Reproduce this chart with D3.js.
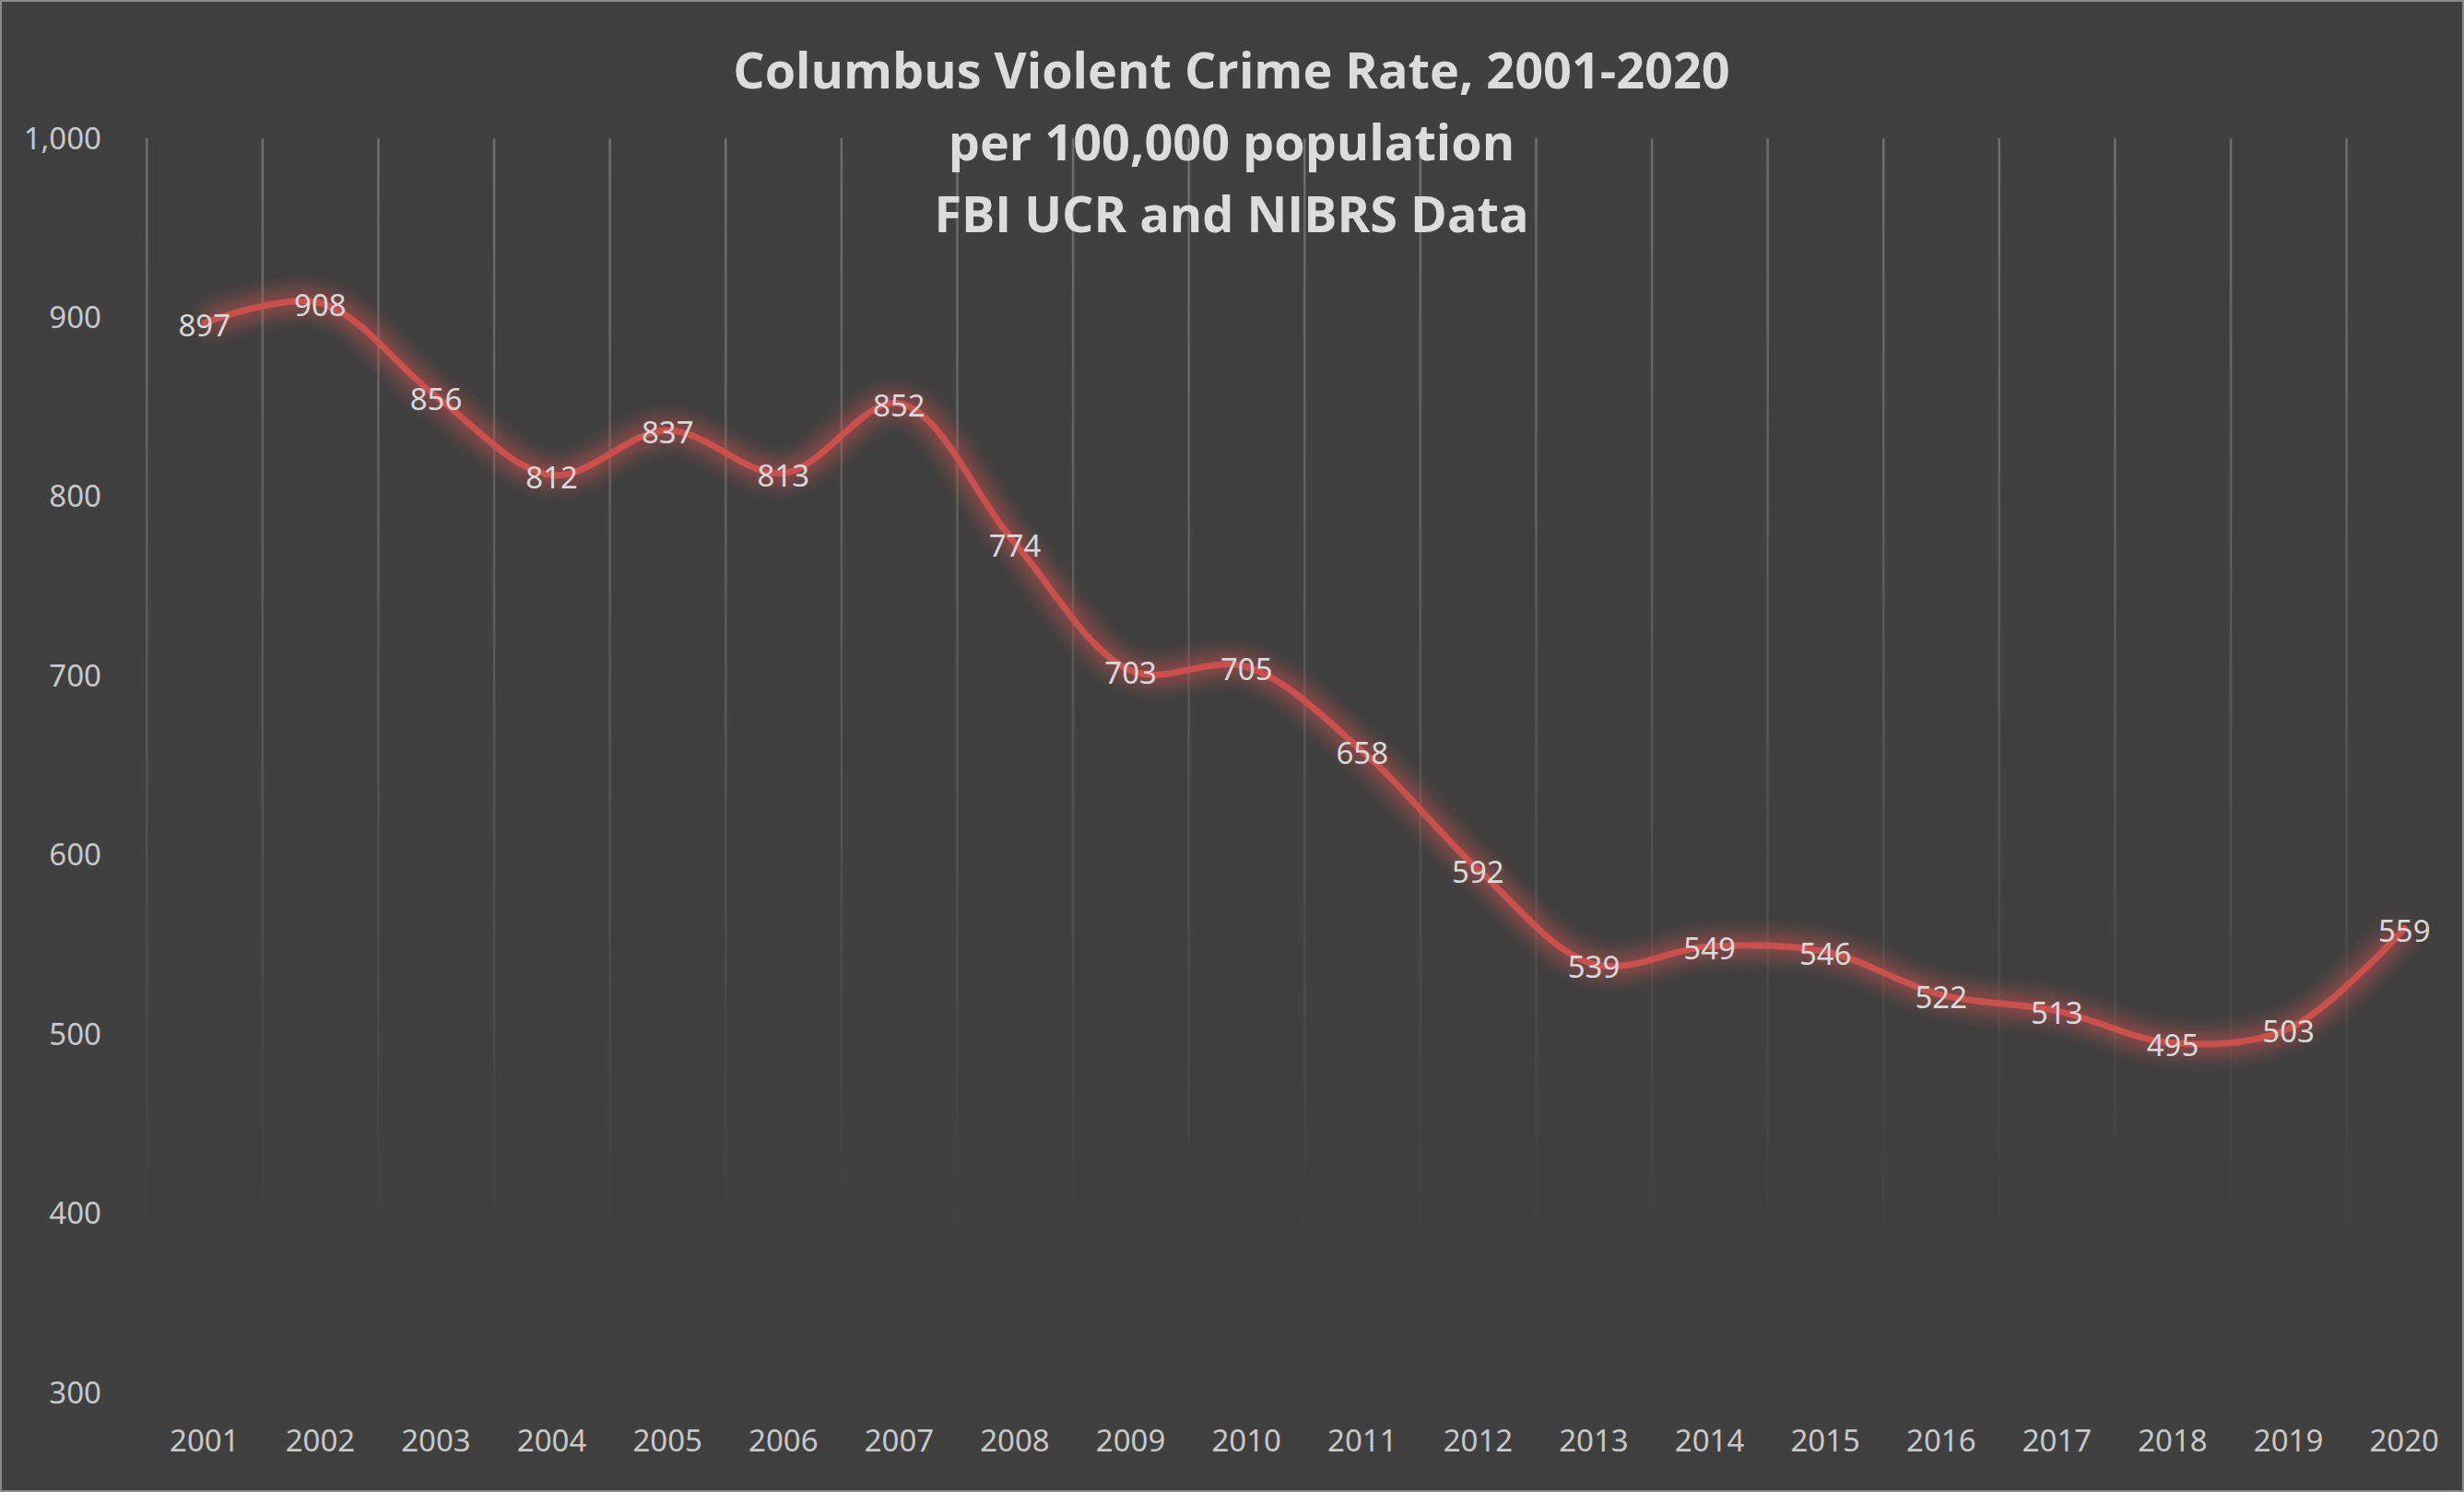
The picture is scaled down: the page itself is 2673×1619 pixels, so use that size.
<!DOCTYPE html><html><head><meta charset="utf-8">
<script src="https://cdn.jsdelivr.net/npm/d3@7"></script>
<style>body{margin:0;background:#404040}</style></head><body>
<svg id="c" width="2673" height="1619"></svg>
<script>
const years=["2001","2002","2003","2004","2005","2006","2007","2008","2009","2010","2011","2012","2013","2014","2015","2016","2017","2018","2019","2020"];
const rates=[897,908,856,812,837,813,852,774,703,705,658,592,539,549,546,522,513,495,503,559];
const yTicks=[300,400,500,600,700,800,900,1000];
const titleLines=["Columbus Violent Crime Rate, 2001-2020","per 100,000 population","FBI UCR and NIBRS Data"];
const svg=d3.select("#c");
svg.append("rect").attr("x",1).attr("y",1).attr("width",2671).attr("height",1617).attr("fill","#404040").attr("stroke","#8a8a8a").attr("stroke-width",2);
const x=d3.scaleBand().domain(years).range([159,2671]);
const y=d3.scaleLinear().domain([300,1000]).range([1511,150]);
const defs=svg.append("defs");
const g=defs.append("linearGradient").attr("id","gf").attr("x1",0).attr("y1",0).attr("x2",0).attr("y2",1);
g.append("stop").attr("offset","0").attr("stop-color","#7a7a7a").attr("stop-opacity",0.8);
g.append("stop").attr("offset","1").attr("stop-color","#7a7a7a").attr("stop-opacity",0);
const f=defs.append("filter").attr("id","glow").attr("x","-10%").attr("y","-10%").attr("width","120%").attr("height","120%");
f.append("feGaussianBlur").attr("stdDeviation",9);
const gx=years.map(d=>x(d));
svg.selectAll(".gl").data(gx).enter().append("rect").attr("x",d=>d-1).attr("y",150).attr("width",2.5).attr("height",1200).attr("fill","url(#gf)");
svg.selectAll(".yt").data(yTicks).enter().append("text").attr("x",110).attr("y",d=>y(d)).attr("dy","0.35em").attr("text-anchor","end").attr("fill","#c8c8c8").attr("font-family","Noto Sans, sans-serif").attr("font-size",33).text(d=>d3.format(",")(d));
svg.selectAll(".xt").data(years).enter().append("text").attr("x",d=>x(d)+x.bandwidth()/2).attr("y",1575).attr("text-anchor","middle").attr("fill","#c8c8c8").attr("font-family","Noto Sans, sans-serif").attr("font-size",33).text(d=>d);
const line=d3.line().x((d,i)=>x(years[i])+x.bandwidth()/2).y(d=>y(d)).curve(d3.curveCatmullRom.alpha(0.5));
svg.append("path").attr("d",line(rates)).attr("fill","none").attr("stroke","#d9534f").attr("stroke-opacity",0.45).attr("stroke-width",28).attr("filter","url(#glow)");
svg.append("path").attr("d",line(rates)).attr("fill","none").attr("stroke","#c9504c").attr("stroke-width",7).attr("stroke-linecap","round");
svg.selectAll(".dl").data(rates).enter().append("text").attr("x",(d,i)=>x(years[i])+x.bandwidth()/2).attr("y",d=>y(d)+3).attr("dy","0.35em").attr("text-anchor","middle").attr("fill","#d9d9d9").attr("font-family","Noto Sans, sans-serif").attr("font-size",33).text(d=>d);
svg.selectAll(".ti").data(titleLines).enter().append("text").attr("x",1336).attr("y",(d,i)=>77+i*78).attr("dy","0.35em").attr("text-anchor","middle").attr("fill","#dcdcdc").attr("font-family","Open Sans, sans-serif").attr("font-weight","bold").attr("font-size",54).text(d=>d);
</script></body></html>
